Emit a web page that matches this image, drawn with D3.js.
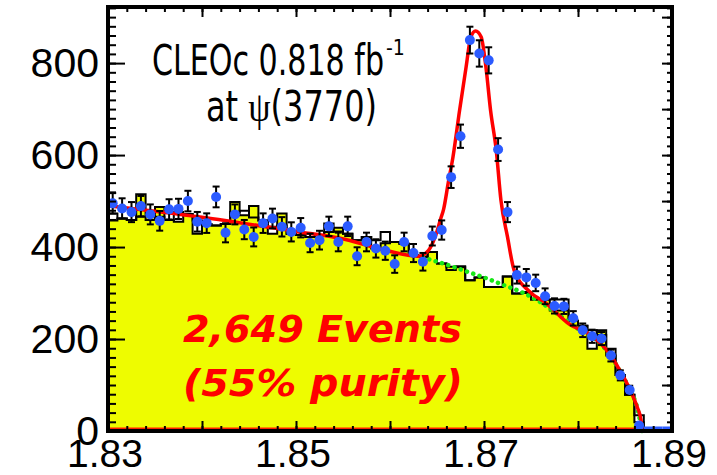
<!DOCTYPE html>
<html>
<head>
<meta charset="utf-8">
<script src="https://d3js.org/d3.v7.min.js"></script>
<style>
	body { margin: 0; background: #fff; }
	svg { display: block; }
	.tick-label { font-family: "Liberation Sans", Arial, Helvetica, sans-serif; font-size: 41px; fill: #000; }
	.title { font-family: "Liberation Sans Narrow", "DejaVu Sans Condensed", "Roboto Condensed", "Liberation Sans", sans-serif; font-size: 42px; fill: #000; }
	.events { font-family: "DejaVu Sans", Verdana, sans-serif; font-size: 38px; font-weight: bold; font-style: italic; fill: #ff0000; }
</style>
</head>
<body>
<div id="chart"></div>
<script>
/*
 *	mbc plot, D+ -> K- pi+ pi+ at psi(3770)
 */
(function () {
	'use strict';

	// binning: 60 bins of 1 MeV
	var massMin = 1.83,
		massMax = 1.89,
		binWidth = 0.001;

	// data (blue points), events / bin
	var dataCounts = [
		495, 484, 476, 489, 471, 457, 482, 483, 500, 455,
		452, 509, 431, 471, 438, 422, 452, 462, 444, 433,
		442, 409, 415, 445, 411, 445, 380, 411, 397, 392,
		363, 411, 387, 368, 424, 437, 552, 641, 850, 821,
		806, 612, 476, 339, 334, 322, 293, 272, 271, 245,
		219, 206, 201, 164, 121, 89, 12, 0, 0, 0
	];

	// generic MC, yellow filled
	var mcFilled = [
		458, 462, 459, 515, 469, 487, 459, 455, 472, 429,
		450, 447, 450, 498, 469, 489, 458, 429, 473, 429,
		426, 422, 426, 433, 442, 429, 415, 422, 397, 408,
		411, 407, 382, 379, 389, 364, 357, 358, 328, 334,
		313, 313, 336, 299, 300, 286, 286, 262, 262, 240,
		229, 179, 219, 164, 122, 79, 19, 0, 0, 0
	];

	// second MC sample, outline only
	var mcOutline = [
		473, 462, 459, 466, 459, 466, 459, 476, 472, 458,
		450, 447, 450, 476, 479, 464, 458, 444, 447, 429,
		426, 422, 426, 451, 434, 429, 415, 422, 415, 433,
		411, 407, 382, 379, 389, 364, 350, 356, 328, 334,
		313, 313, 336, 299, 302, 286, 286, 286, 286, 240,
		229, 219, 209, 179, 122, 79, 34, 0, 0, 0
	];

	// full fit (red), [mass, events]
	var fitCurve = [
		[1.8300, 490], [1.8400, 465], [1.8500, 434], [1.8547, 419], [1.8595, 393],
		[1.8630, 380], [1.8641, 393], [1.8648, 422], [1.8654, 462], [1.8657, 482],
		[1.8662, 540], [1.8667, 596], [1.8674, 697], [1.8681, 792], [1.8686, 857],
		[1.8691, 870], [1.8697, 857], [1.8702, 792], [1.8707, 697], [1.8713, 611],
		[1.8718, 502], [1.8725, 422], [1.8732, 350], [1.8748, 304], [1.8766, 278],
		[1.8791, 232], [1.8814, 208], [1.8832, 172], [1.8845, 130], [1.8856, 87],
		[1.8863, 52], [1.8867, 24], [1.8868, 0]
	];

	// background part of the fit (green dotted)
	var bkgCurve = [
		[1.8635, 377], [1.8660, 362], [1.8680, 348], [1.8700, 334], [1.8720, 318],
		[1.8740, 302], [1.8760, 280], [1.8780, 252], [1.8800, 222], [1.8814, 206],
		[1.8832, 171], [1.8845, 129], [1.8856, 86], [1.8863, 51], [1.8868, 0]
	];

	var xLabels = [1.83, 1.85, 1.87, 1.89],
		yLabels = [0, 200, 400, 600, 800];

	var width = 717,
		height = 475,
		plot = { left: 108, right: 672, top: 7, bottom: 431 };

	var xScale = d3.scaleLinear().domain([massMin, massMax]).range([plot.left, plot.right]),
		yScale = d3.scaleLinear().domain([0, 922]).range([plot.bottom, plot.top]);

	var binEdges = d3.range(dataCounts.length).map(function (i) { return massMin + i * binWidth; });

	function stepData(values) {
		var pts = values.map(function (v, i) { return [binEdges[i], v]; });
		pts.push([massMax, values[values.length - 1]]);
		return pts;
	}

	var svg = d3.select('#chart')
		.append('svg')
			.attr('width', width)
			.attr('height', height);

	var stepLine = d3.line()
		.curve(d3.curveStepAfter)
		.x(function (d) { return xScale(d[0]); })
		.y(function (d) { return yScale(d[1]); });

	var stepArea = d3.area()
		.curve(d3.curveStepAfter)
		.x(function (d) { return xScale(d[0]); })
		.y0(yScale(0))
		.y1(function (d) { return yScale(d[1]); });

	// HISTOGRAMS
	svg.append('path')
		.datum(stepData(mcFilled))
		.attr('d', stepArea)
		.attr('fill', '#eefc00');

	svg.append('path')
		.datum(stepData(mcFilled))
		.attr('d', stepLine)
		.attr('fill', 'none')
		.attr('stroke', '#000')
		.attr('stroke-width', 2);

	svg.append('path')
		.datum(stepData(mcOutline))
		.attr('d', stepLine)
		.attr('fill', 'none')
		.attr('stroke', '#000')
		.attr('stroke-width', 2);

	// red line along zero under the fit
	svg.append('path')
		.datum([[massMin, 0], fitCurve[fitCurve.length - 1]])
		.attr('d', d3.line()
			.x(function (d) { return xScale(d[0]); })
			.y(function (d) { return yScale(d[1]) - 2.5; }))
		.attr('stroke', '#ff2000')
		.attr('stroke-width', 2);

	// FIT CURVES
	var smoothLine = d3.line()
		.curve(d3.curveMonotoneX)
		.x(function (d) { return xScale(d[0]); })
		.y(function (d) { return yScale(d[1]); });

	svg.append('path')
		.datum(bkgCurve)
		.attr('d', smoothLine)
		.attr('fill', 'none')
		.attr('stroke', '#18e818')
		.attr('stroke-width', 4.5)
		.attr('stroke-linecap', 'round')
		.attr('stroke-dasharray', '0.1,6.5');

	svg.append('path')
		.datum(fitCurve)
		.attr('d', smoothLine)
		.attr('fill', 'none')
		.attr('stroke', '#ff0000')
		.attr('stroke-width', 3.5);

	// DATA POINTS
	var points = dataCounts.map(function (n, i) {
		return { m: binEdges[i] + binWidth / 2, lo: binEdges[i], hi: binEdges[i] + binWidth, n: n, err: Math.sqrt(n) };
	});
	var filled = points.filter(function (d) { return d.n > 0; }),
		empty = points.filter(function (d) { return d.n === 0; });

	var bars = svg.append('g').attr('stroke', '#000').attr('stroke-width', 2);
	bars.selectAll('line.err')
		.data(filled)
		.enter().append('line')
			.attr('class', 'err')
			.attr('x1', function (d) { return xScale(d.m); })
			.attr('x2', function (d) { return xScale(d.m); })
			.attr('y1', function (d) { return yScale(d.n - d.err); })
			.attr('y2', function (d) { return yScale(d.n + d.err); });
	['lo', 'hi'].forEach(function (k) {
		bars.selectAll('line.cap-' + k)
			.data(filled)
			.enter().append('line')
				.attr('class', 'cap-' + k)
				.attr('x1', function (d) { return xScale(d.m) - 3.5; })
				.attr('x2', function (d) { return xScale(d.m) + 3.5; })
				.attr('y1', function (d) { return yScale(k === 'lo' ? d.n - d.err : d.n + d.err); })
				.attr('y2', function (d) { return yScale(k === 'lo' ? d.n - d.err : d.n + d.err); });
	});

	svg.selectAll('circle.pt')
		.data(filled)
		.enter().append('circle')
			.attr('class', 'pt')
			.attr('cx', function (d) { return xScale(d.m); })
			.attr('cy', function (d) { return yScale(d.n); })
			.attr('r', 5)
			.attr('fill', '#2b5bff');

	svg.selectAll('line.zero')
		.data(empty)
		.enter().append('line')
			.attr('class', 'zero')
			.attr('x1', function (d) { return xScale(d.lo); })
			.attr('x2', function (d) { return xScale(d.hi); })
			.attr('y1', yScale(0) - 3)
			.attr('y2', yScale(0) - 3)
			.attr('stroke', '#2b5bff')
			.attr('stroke-width', 3);

	// AXES (ticks inside the frame)
	function addAxis(axis, tx, ty) {
		return svg.append('g')
			.attr('transform', 'translate(' + tx + ',' + ty + ')')
			.call(axis);
	}

	var minorX = d3.range(0, 31).map(function (i) { return massMin + i * 0.002; }),
		midX = d3.range(0, 7).map(function (i) { return massMin + i * 0.01; }),
		minorY = d3.range(0, 47).map(function (i) { return i * 20; }),
		midY = d3.range(0, 10).map(function (i) { return i * 100; });

	addAxis(d3.axisBottom(xScale).tickValues(minorX).tickSizeInner(-5).tickSizeOuter(0).tickFormat(''), 0, plot.bottom);
	addAxis(d3.axisBottom(xScale).tickValues(midX).tickSizeInner(-10).tickSizeOuter(0).tickFormat(''), 0, plot.bottom);
	addAxis(d3.axisTop(xScale).tickValues(minorX).tickSizeInner(-5).tickSizeOuter(0).tickFormat(''), 0, plot.top);
	addAxis(d3.axisTop(xScale).tickValues(midX).tickSizeInner(-10).tickSizeOuter(0).tickFormat(''), 0, plot.top);
	addAxis(d3.axisLeft(yScale).tickValues(minorY).tickSizeInner(-8).tickSizeOuter(0).tickFormat(''), plot.left, 0);
	addAxis(d3.axisLeft(yScale).tickValues(yLabels).tickSizeInner(-17).tickSizeOuter(0).tickFormat(''), plot.left, 0);
	addAxis(d3.axisRight(yScale).tickValues(minorY).tickSizeInner(-5).tickSizeOuter(0).tickFormat(''), plot.right, 0);
	addAxis(d3.axisRight(yScale).tickValues(midY).tickSizeInner(-10).tickSizeOuter(0).tickFormat(''), plot.right, 0);

	svg.selectAll('.tick line').attr('stroke', '#000').attr('stroke-width', 2);
	svg.selectAll('.domain').remove();

	// frame
	svg.append('rect')
		.attr('x', plot.left)
		.attr('y', plot.top)
		.attr('width', plot.right - plot.left)
		.attr('height', plot.bottom - plot.top)
		.attr('fill', 'none')
		.attr('stroke', '#000')
		.attr('stroke-width', 4);

	// tick labels
	svg.selectAll('text.ylab')
		.data(yLabels)
		.enter().append('text')
			.attr('class', 'tick-label ylab')
			.attr('x', plot.left - 9)
			.attr('y', function (d) { return yScale(d); })
			.attr('dy', '0.34em')
			.attr('text-anchor', 'end')
			.text(function (d) { return d; });

	svg.selectAll('text.xlab')
		.data(xLabels)
		.enter().append('text')
			.attr('class', 'tick-label xlab')
			.attr('x', function (d) { return xScale(d) - 3; })
			.attr('y', 467)
			.attr('text-anchor', 'middle')
			.style('font-size', '39px')
			.text(function (d) { return d3.format('.2f')(d); });

	// TEXT
	svg.append('text')
		.attr('class', 'title')
		.attr('x', 152).attr('y', 75)
		.attr('textLength', 232)
		.attr('lengthAdjust', 'spacingAndGlyphs')
		.text('CLEOc 0.818 fb');
	svg.append('text')
		.attr('class', 'title')
		.attr('x', 386).attr('y', 55)
		.style('font-size', '21px')
		.text('-1');

	var line2 = svg.append('text')
		.attr('class', 'title')
		.attr('x', 206).attr('y', 121)
		.attr('textLength', 171)
		.attr('lengthAdjust', 'spacingAndGlyphs');
	line2.append('tspan').text('at ');
	line2.append('tspan').style('font-family', '"Liberation Serif", "DejaVu Serif", serif').text('ψ');
	line2.append('tspan').text('(3770)');

	svg.append('text')
		.attr('class', 'events')
		.attr('x', 183).attr('y', 342)
		.attr('textLength', 279)
		.attr('lengthAdjust', 'spacingAndGlyphs')
		.text('2,649 Events');
	svg.append('text')
		.attr('class', 'events')
		.attr('x', 183).attr('y', 396)
		.attr('textLength', 280)
		.attr('lengthAdjust', 'spacingAndGlyphs')
		.text('(55% purity)');
}());
</script>
</body>
</html>
